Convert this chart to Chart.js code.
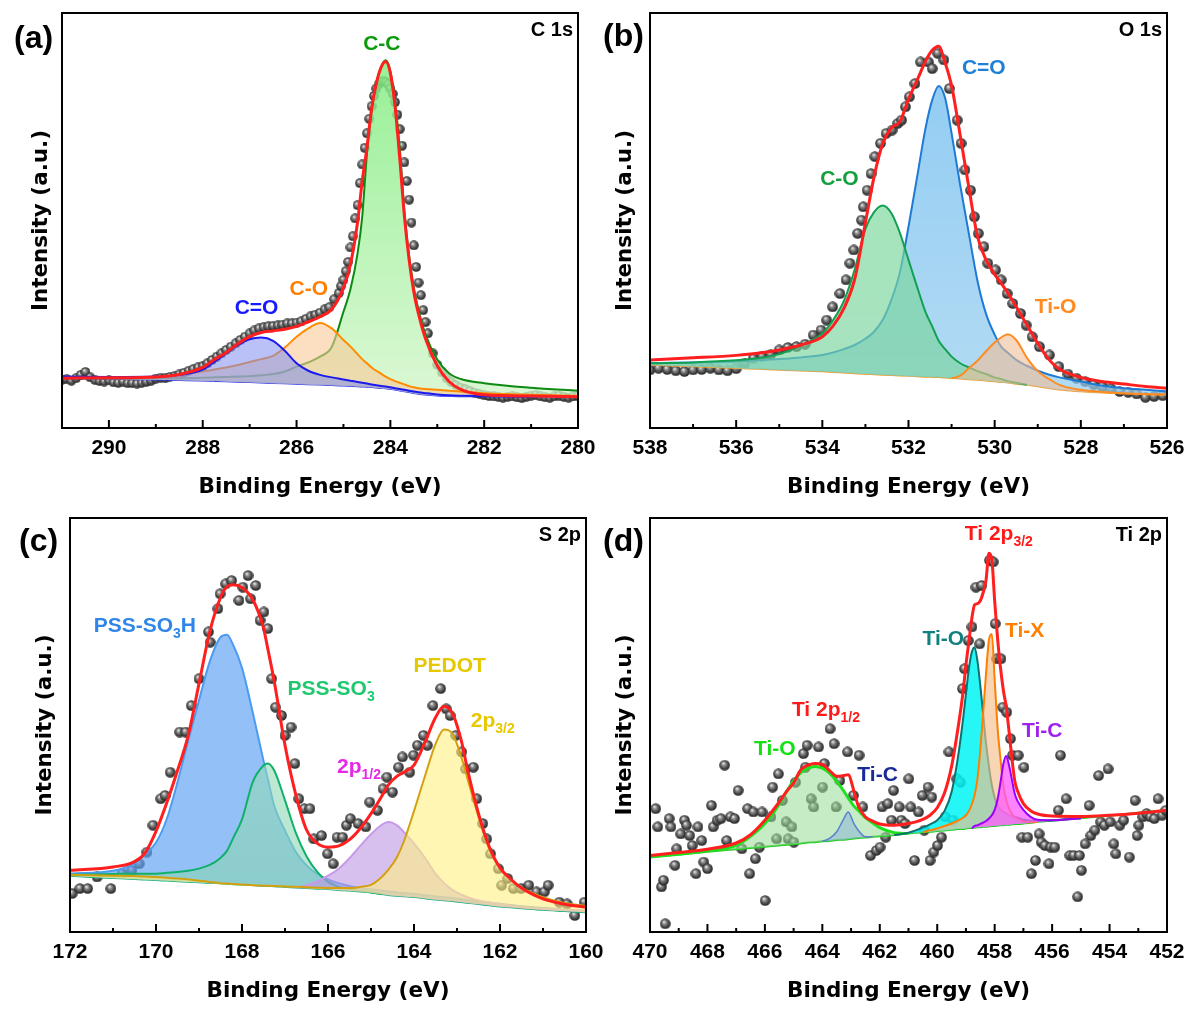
<!DOCTYPE html>
<html>
<head>
<meta charset="utf-8">
<title>XPS spectra</title>
<script src="https://cdn.jsdelivr.net/npm/chart.js@4.4.1/dist/chart.umd.min.js"></script>
<style>
  html, body { margin: 0; padding: 0; background: #fff; }
  #fig { position: relative; width: 1194px; height: 1014px; background: #fff; overflow: hidden; }
  #fig canvas { position: absolute; }
</style>
</head>
<body>
<div id="fig">
  <canvas id="pa" width="597" height="507" style="left:0;top:0"></canvas>
  <canvas id="pb" width="597" height="507" style="left:597px;top:0"></canvas>
  <canvas id="pc" width="620" height="507" style="left:0;top:507px"></canvas>
  <canvas id="pd" width="597" height="507" style="left:597px;top:507px"></canvas>
</div>
<script>
// ---------- shared text ----------
const xTitle = "Binding Energy (eV)";
const yTitle = "Intensity (a.u.)";
const coreLevels = ["C 1s", "O 1s", "S 2p", "Ti 2p"];
const panelLetters = ["(a)", "(b)", "(c)", "(d)"];

// ---------- (a) C 1s ----------
const aEnergy = [291, 290, 289, 288.5, 288, 287.75, 287.5, 287.25, 287, 286.75, 286.5, 286.25, 286, 285.75, 285.5, 285.25, 285, 284.85, 284.7, 284.6, 284.5, 284.4, 284.3, 284.2, 284.1, 284, 283.9, 283.8, 283.7, 283.6, 283.5, 283.4, 283.25, 283, 282.75, 282.5, 282, 281, 280];
const aBackground = [12.0, 11.8, 11.6, 11.5, 11.4, 11.3, 11.2, 11.1, 11.0, 10.9, 10.8, 10.7, 10.6, 10.5, 10.4, 10.3, 10.2, 10.1, 10.0, 9.95, 9.9, 9.8, 9.7, 9.6, 9.5, 9.4, 9.2, 9.0, 8.8, 8.6, 8.4, 8.2, 8.0, 7.8, 7.7, 7.6, 7.6, 7.5, 7.4];
const aCC = [12.0, 12.0, 12.0, 12.0, 12.1, 12.2, 12.3, 12.4, 12.5, 12.7, 13.0, 13.6, 14.8, 15.8, 17.2, 19.5, 28.0, 33.5, 42.0, 50.9, 66.0, 76.5, 83.0, 87.0, 88.6, 86.0, 78.5, 67.5, 52.0, 41.5, 33.8, 28.5, 22.5, 16.5, 13.2, 11.8, 10.8, 9.7, 9.0];
const aCO = [12.1, 12.0, 12.2, 12.8, 13.6, 14.1, 14.6, 15.2, 15.9, 16.6, 17.4, 19.4, 22.0, 24.0, 25.3, 24.0, 21.2, 19.6, 17.8, 16.6, 15.6, 14.6, 13.8, 13.1, 12.4, 11.8, 11.3, 10.9, 10.5, 10.1, 9.8, 9.6, 9.4, 9.2, 9.0, 8.8, 8.4, 8.0, 7.8];
const aC2O = [12.4, 12.3, 12.4, 12.8, 14.1, 16.0, 18.0, 20.0, 21.4, 21.8, 21.0, 18.6, 15.6, 13.8, 12.8, 12.2, 11.7, 11.4, 11.1, 10.9, 10.7, 10.5, 10.3, 10.1, 10.0, 9.8, 9.6, 9.4, 9.2, 9.0, 8.8, 8.6, 8.4, 8.1, 7.9, 7.8, 7.7, 7.5, 7.4];
const aFit = [12.0, 12.1, 12.3, 12.9, 14.6, 16.5, 18.2, 20.3, 22.0, 23.0, 23.4, 23.8, 24.5, 25.6, 26.8, 28.6, 33.8, 39.5, 49.5, 59.5, 67.5, 77.0, 83.0, 86.8, 88.3, 85.5, 77.5, 65.0, 51.0, 40.5, 32.8, 27.5, 21.5, 15.0, 11.2, 9.3, 8.0, 7.7, 7.5];
const aDataE = [291.0, 290.9, 290.8, 290.7, 290.6, 290.5, 290.4, 290.3, 290.2, 290.1, 290.0, 289.9, 289.8, 289.7, 289.6, 289.5, 289.4, 289.3, 289.2, 289.1, 289.0, 288.9, 288.8, 288.7, 288.6, 288.5,
  288.4, 288.3, 288.2, 288.1, 288.0, 287.9, 287.8, 287.7, 287.6, 287.5, 287.4, 287.3, 287.2, 287.1, 287.0, 286.9, 286.8, 286.7, 286.6, 286.5, 286.4, 286.3, 286.2, 286.1, 286.0, 285.9, 285.8, 285.7, 285.6, 285.5, 285.4, 285.3, 285.2, 285.1,
  285.05, 285.0, 284.95, 284.9, 284.85, 284.8, 284.75, 284.7, 284.65, 284.6, 284.55, 284.5, 284.45, 284.4, 284.35, 284.3, 284.25, 284.2, 284.15, 284.1, 284.05, 284.0, 283.95, 283.9, 283.85, 283.8, 283.75, 283.7, 283.65, 283.6, 283.55, 283.5, 283.45, 283.4, 283.35, 283.3, 283.25, 283.2,
  283.1, 283.0, 282.9, 282.8, 282.7, 282.6, 282.5, 282.4, 282.3, 282.2, 282.1, 282.0, 281.9, 281.8, 281.7, 281.6, 281.5, 281.4, 281.3, 281.2, 281.1, 281.0, 280.9, 280.8, 280.7, 280.6, 280.5, 280.4, 280.3, 280.2, 280.1, 280.0];
const aDataI = [11.6, 11.8, 11.4, 12.0, 12.8, 13.5, 12.2, 11.6, 11.3, 11.2, 11.5, 11.0, 10.9, 11.2, 10.8, 10.8, 10.7, 10.9, 11.1, 11.4, 11.9, 12.1, 12.0, 12.3, 12.5, 12.9,
  13.3, 13.8, 14.2, 14.6, 14.9, 15.6, 16.4, 17.2, 18.0, 18.8, 19.6, 20.4, 21.2, 22.0, 22.8, 23.5, 24.0, 24.3, 24.5, 24.6, 24.7, 24.9, 25.2, 25.2, 25.4, 25.7, 26.3, 26.9, 27.3, 27.8, 28.6, 29.1, 31.0, 32.5,
  34.2, 35.7, 37.8, 40.0, 43.5, 46.2, 50.5, 53.7, 59.0, 63.5, 67.5, 71.0, 74.5, 77.5, 80.0, 81.8, 82.8, 83.4, 83.6, 83.4, 82.8, 81.8, 80.5, 78.5, 75.5, 72.0, 68.0, 64.0, 59.5, 55.0, 49.5, 44.0, 38.8, 35.0, 32.0, 28.4, 25.5, 22.8,
  18.0, 15.2, 13.4, 12.0, 11.0, 10.3, 9.7, 9.3, 8.9, 8.5, 8.2, 7.9, 7.7, 7.6, 7.5, 7.3, 7.5, 7.6, 7.4, 7.2, 7.5, 7.8, 7.9, 7.6, 7.4, 7.3, 7.6, 7.8, 7.5, 7.3, 7.6, 7.7];
const aPeaks = ["C-C", "C-O", "C=O"];

// ---------- (b) O 1s ----------
const bEnergy = [538, 537, 536, 535.5, 535, 534.5, 534, 533.75, 533.5, 533.25, 533, 532.8, 532.6, 532.4, 532.2, 532, 531.8, 531.6, 531.45, 531.3, 531.15, 531, 530.8, 530.6, 530.4, 530.2, 530, 529.85, 529.7, 529.5, 529.25, 529, 528.75, 528.5, 528, 527.5, 527, 526.5, 526];
const bBackground = [15.2, 14.8, 14.4, 14.2, 14.0, 13.8, 13.6, 13.45, 13.3, 13.15, 13.0, 12.9, 12.8, 12.7, 12.6, 12.5, 12.4, 12.3, 12.25, 12.2, 12.1, 12.0, 11.85, 11.7, 11.55, 11.4, 11.2, 11.05, 10.9, 10.6, 10.4, 10.0, 9.6, 9.2, 8.8, 8.5, 8.3, 8.1, 8.0];
const bC2O = [15.6, 15.8, 16.0, 16.3, 16.6, 17.0, 17.6, 18.2, 19.0, 20.0, 21.5, 23.2, 26.0, 30.8, 37.5, 48.5, 60.5, 72.5, 79.0, 82.4, 79.5, 71.0, 58.5, 46.9, 35.5, 27.5, 22.5, 19.6, 18.2, 16.4, 15.0, 13.8, 12.9, 12.2, 11.2, 10.2, 9.6, 9.2, 8.8];
const bCO = [15.6, 15.8, 16.3, 16.8, 17.8, 19.9, 22.8, 26.0, 30.6, 38.2, 48.0, 52.0, 53.6, 51.8, 47.0, 40.5, 34.0, 27.8, 24.5, 21.0, 19.0, 17.2, 15.6, 14.6, 13.7, 13.0, 12.2, 11.8, 11.3, 10.9, 10.4, 10.0, 9.6, 9.2, 8.8, 8.5, 8.3, 8.1, 8.0];
const bTiO = [15.2, 14.8, 14.4, 14.2, 14.0, 13.8, 13.6, 13.45, 13.3, 13.15, 13.0, 12.9, 12.8, 12.7, 12.6, 12.5, 12.4, 12.3, 12.25, 12.2, 12.1, 12.0, 12.6, 14.4, 16.2, 18.5, 20.6, 21.8, 22.6, 21.2, 16.9, 13.7, 11.9, 10.4, 9.2, 8.7, 8.4, 8.2, 8.1];
const bFit = [16.4, 16.9, 17.5, 18.0, 18.8, 20.0, 22.0, 24.6, 28.8, 35.8, 49.5, 60.5, 68.5, 72.3, 73.8, 79.2, 83.8, 88.5, 91.0, 92.0, 88.0, 82.5, 70.5, 58.0, 46.2, 40.5, 37.0, 34.9, 32.6, 29.2, 24.8, 20.4, 16.6, 14.2, 12.2, 11.2, 10.6, 10.0, 9.6];
const bDataE = [538.0, 537.8, 537.6, 537.4, 537.2, 537.0, 536.8, 536.6, 536.4, 536.2, 536.0, 535.8, 535.6, 535.4, 535.2, 535.0, 534.8, 534.6, 534.4,
  534.21, 534.03, 533.9, 533.76, 533.59, 533.45, 533.36, 533.27, 533.18, 533.09, 533.05, 532.96, 532.87, 532.78, 532.65, 532.52, 532.38, 532.25, 532.16, 532.07, 531.98, 531.85, 531.72, 531.54, 531.45, 531.32, 531.18, 531.05, 530.87, 530.78, 530.69, 530.56, 530.47, 530.38, 530.25, 530.16, 529.98, 529.85, 529.71, 529.58, 529.4, 529.27, 529.13, 528.96, 528.73, 528.51,
  528.3, 528.1, 527.9, 527.7, 527.5, 527.3, 527.1, 526.9, 526.7, 526.5, 526.3, 526.1];
const bDataI = [14.0, 14.4, 14.1, 13.8, 13.6, 14.0, 14.1, 14.4, 14.0, 13.8, 14.3, 15.6, 16.8, 17.3, 17.7, 18.8, 19.4, 19.6, 20.2,
  22.4, 23.6, 26.0, 29.2, 32.4, 35.7, 39.7, 42.9, 46.9, 50.1, 53.3, 57.3, 61.3, 65.4, 68.6, 71.0, 71.8, 73.4, 74.2, 77.4, 79.8, 83.0, 88.2, 88.2, 86.6, 90.3, 88.7, 81.8, 74.2, 68.6, 62.2, 57.3, 50.9, 46.9, 43.7, 39.7, 38.1, 35.7, 32.4, 30.0, 27.6, 24.8, 22.0, 19.6, 17.6, 14.8,
  13.0, 12.0, 11.2, 10.5, 10.0, 9.5, 8.8, 8.6, 8.2, 7.4, 7.6, 7.8];
const bPeaks = ["C=O", "C-O", "Ti-O"];

// ---------- (c) S 2p ----------
const cEnergy = [172, 171, 170.5, 170.25, 170, 169.75, 169.5, 169.25, 169, 168.75, 168.5, 168.35, 168.2, 168, 167.75, 167.5, 167.4, 167.25, 167, 166.75, 166.5, 166.25, 166, 165.75, 165.5, 165.25, 165, 164.75, 164.6, 164.4, 164.25, 164, 163.75, 163.5, 163.3, 163.1, 162.9, 162.75, 162.5, 162.25, 162, 161.75, 161.5, 161, 160.5, 160];
const cBackground = [13.5, 13.0, 12.75, 12.6, 12.5, 12.35, 12.2, 12.1, 11.95, 11.8, 11.7, 11.6, 11.5, 11.4, 11.3, 11.1, 11.05, 11.0, 10.85, 10.7, 10.55, 10.4, 10.3, 10.1, 9.95, 9.75, 9.5, 9.1, 8.9, 8.7, 8.6, 8.4, 8.1, 7.8, 7.6, 7.4, 7.2, 7.0, 6.7, 6.4, 6.1, 5.9, 5.7, 5.3, 5.0, 4.7];
const cSO3H = [14.1, 14.8, 16.6, 18.8, 21.6, 27.3, 36.2, 46.3, 56.0, 65.3, 71.2, 71.8, 69.2, 63.8, 53.0, 41.4, 37.0, 30.5, 24.5, 19.4, 16.1, 14.0, 12.7, 11.8, 11.1, 10.6, 10.3, 10.0, 9.8, 9.6, 9.4, 9.2, 8.9, 8.6, 8.4, 8.2, 7.9, 7.7, 7.4, 7.1, 6.8, 6.5, 6.2, 5.8, 5.4, 5.1];
const cSO3 = [13.8, 14.0, 14.1, 14.1, 14.1, 14.3, 14.5, 14.8, 15.3, 16.2, 17.9, 19.6, 22.8, 27.2, 36.2, 40.2, 40.7, 39.0, 31.8, 24.0, 18.3, 14.5, 12.1, 10.9, 10.3, 9.9, 9.6, 9.1, 8.9, 8.7, 8.6, 8.4, 8.1, 7.8, 7.6, 7.4, 7.2, 7.0, 6.7, 6.4, 6.1, 5.9, 5.7, 5.3, 5.0, 4.7];
const cP12 = [13.5, 13.0, 12.75, 12.6, 12.5, 12.35, 12.2, 12.1, 11.95, 11.8, 11.7, 11.6, 11.5, 11.4, 11.3, 11.1, 11.05, 11.0, 10.85, 10.7, 11.3, 12.2, 13.6, 15.3, 17.8, 20.8, 23.6, 25.9, 26.6, 25.8, 24.3, 21.4, 18.0, 14.1, 11.8, 10.1, 9.0, 8.4, 7.6, 7.1, 6.7, 6.4, 6.1, 5.7, 5.4, 5.2];
const cP32 = [13.8, 13.6, 13.5, 13.4, 13.3, 13.1, 12.9, 12.7, 12.4, 12.1, 11.8, 11.7, 11.6, 11.5, 11.3, 11.2, 11.15, 11.1, 11.0, 10.9, 10.8, 10.7, 10.6, 10.6, 10.6, 10.9, 11.4, 13.3, 15.0, 18.0, 21.5, 29.2, 37.5, 45.4, 48.9, 47.8, 42.3, 36.8, 27.8, 20.0, 15.4, 12.6, 10.7, 8.4, 7.0, 6.3];
const cFit = [14.9, 15.7, 17.0, 19.2, 24.3, 31.2, 39.0, 47.5, 60.0, 72.5, 80.8, 83.4, 83.9, 83.2, 80.3, 73.4, 68.4, 60.5, 45.1, 33.2, 24.7, 21.4, 20.5, 20.8, 22.3, 25.0, 28.6, 32.8, 35.5, 37.6, 38.5, 40.3, 45.7, 51.8, 54.5, 52.7, 46.2, 39.0, 28.6, 20.6, 15.5, 12.8, 10.6, 8.0, 6.7, 6.0];
const cDataE = [171.95, 171.77, 171.59, 171.37, 171.05, 170.79, 170.56, 170.39, 170.21, 170.07, 169.89, 169.79, 169.67, 169.45, 169.31, 169.18, 169.0, 168.78, 168.74, 168.56, 168.51, 168.38, 168.24, 168.07, 167.98, 167.86, 167.8, 167.68, 167.58, 167.49, 167.4, 167.31, 167.22, 167.08, 167.0, 166.86, 166.77, 166.68, 166.55, 166.42, 166.33, 166.15, 166.01, 165.88, 165.79, 165.66, 165.57, 165.48, 165.3, 165.12, 165.03, 164.85, 164.72, 164.63, 164.5, 164.36, 164.27, 164.1, 164.01, 163.92, 163.78, 163.69, 163.56, 163.38, 163.25, 163.16, 163.03, 162.89, 162.8, 162.62, 162.54, 162.4, 162.31, 162.22, 162.04, 161.96, 161.82, 161.69, 161.51, 161.33, 161.15, 160.97, 160.88, 160.62, 160.44, 160.26, 160.04];
const cDataI = [9.3, 10.5, 10.5, 13.3, 10.5, 14.1, 14.9, 16.5, 19.3, 25.8, 32.2, 33.0, 38.6, 48.3, 48.3, 54.7, 61.2, 72.5, 70.0, 78.1, 81.7, 84.1, 84.9, 80.1, 83.3, 86.1, 80.5, 83.7, 75.3, 77.3, 73.3, 61.2, 54.3, 52.3, 47.5, 49.5, 40.7, 32.2, 29.8, 29.8, 22.5, 23.3, 18.9, 16.5, 22.9, 22.9, 25.8, 27.4, 26.2, 25.4, 31.4, 29.4, 34.6, 37.4, 33.8, 39.8, 42.3, 38.6, 42.7, 45.1, 47.5, 45.1, 54.7, 58.8, 53.9, 52.3, 47.5, 43.5, 39.4, 39.8, 32.2, 26.2, 22.5, 18.9, 15.3, 11.3, 12.9, 10.5, 10.5, 11.3, 9.7, 9.7, 11.3, 7.2, 6.8, 4.0, 7.2];
const cPeaks = ["PSS-SO_{3}H", "PSS-SO_{3}^{-}", "PEDOT", "2p_{3/2}", "2p_{1/2}"];

// ---------- (d) Ti 2p ----------
const dEnergy = [470, 469, 468, 467, 466.5, 466, 465.5, 465.25, 465, 464.75, 464.5, 464.25, 464, 463.75, 463.5, 463.25, 463.1, 462.9, 462.75, 462.5, 462.25, 462, 461.5, 461, 460.5, 460.25, 460, 459.75, 459.5, 459.25, 459.1, 459, 458.9, 458.8, 458.7, 458.6, 458.5, 458.4, 458.3, 458.2, 458.1, 458, 457.9, 457.8, 457.7, 457.6, 457.5, 457.4, 457.3, 457.2, 457, 456.75, 456.5, 456, 455, 454, 453, 452];
const dBackground = [18.1, 18.7, 19.4, 20.0, 20.3, 20.6, 20.9, 21.1, 21.2, 21.4, 21.6, 21.7, 21.9, 22.0, 22.2, 22.3, 22.4, 22.6, 22.7, 22.8, 23.0, 23.1, 23.4, 23.8, 24.1, 24.2, 24.4, 24.5, 24.7, 24.9, 24.9, 25.0, 25.1, 25.1, 25.2, 25.3, 25.3, 25.4, 25.4, 25.5, 25.6, 25.6, 25.7, 25.8, 25.8, 25.9, 25.9, 26.0, 26.1, 26.1, 26.2, 26.4, 26.6, 26.9, 27.5, 28.1, 28.8, 29.4];
const dTiO12 = [18.1, 18.8, 19.6, 20.9, 23.1, 26.2, 30.9, 33.9, 36.5, 38.5, 39.6, 40.0, 39.6, 38.4, 36.4, 34.0, 32.4, 30.4, 29.4, 27.6, 26.4, 25.2, 24.0, 23.8, 24.1, 24.2, 24.4, 24.5, 24.7, 24.9, 24.9, 25.0, 25.1, 25.1, 25.2, 25.3, 25.3, 25.4, 25.4, 25.5, 25.6, 25.6, 25.7, 25.8, 25.8, 25.9, 25.9, 26.0, 26.1, 26.1, 26.2, 26.4, 26.6, 26.9, 27.5, 28.1, 28.8, 29.4];
const dTiC12 = [18.1, 18.7, 19.4, 20.0, 20.3, 20.6, 20.9, 21.1, 21.2, 21.4, 21.6, 21.7, 21.9, 22.6, 24.2, 27.4, 29.0, 26.2, 24.6, 23.0, 23.0, 23.1, 23.4, 23.8, 24.1, 24.2, 24.4, 24.5, 24.7, 24.9, 24.9, 25.0, 25.1, 25.1, 25.2, 25.3, 25.3, 25.4, 25.4, 25.5, 25.6, 25.6, 25.7, 25.8, 25.8, 25.9, 25.9, 26.0, 26.1, 26.1, 26.2, 26.4, 26.6, 26.9, 27.5, 28.1, 28.8, 29.4];
const dTiO32 = [18.1, 18.7, 19.4, 20.0, 20.3, 20.6, 20.9, 21.1, 21.2, 21.4, 21.6, 21.7, 21.9, 22.0, 22.2, 22.3, 22.4, 22.6, 22.7, 22.8, 23.0, 23.1, 23.4, 24.0, 25.2, 26.0, 27.0, 29.2, 33.8, 43.5, 51.5, 57.5, 63.5, 67.5, 68.8, 65.5, 59.5, 52.5, 45.5, 40.0, 35.5, 32.5, 30.6, 29.6, 29.0, 28.6, 28.2, 28.0, 27.8, 27.6, 27.1, 26.9, 26.9, 27.0, 27.5, 28.1, 28.8, 29.4];
const dTiX = [18.1, 18.7, 19.4, 20.0, 20.3, 20.6, 20.9, 21.1, 21.2, 21.4, 21.6, 21.7, 21.9, 22.0, 22.2, 22.3, 22.4, 22.6, 22.7, 22.8, 23.0, 23.1, 23.4, 23.8, 24.1, 24.6, 25.0, 25.6, 26.2, 27.0, 27.6, 28.2, 29.2, 30.8, 33.0, 37.0, 44.0, 53.0, 62.5, 70.5, 72.0, 61.0, 49.5, 42.0, 35.5, 32.0, 29.8, 28.6, 27.8, 27.3, 26.7, 26.5, 26.6, 26.9, 27.5, 28.1, 28.8, 29.4];
const dTiC32 = [18.1, 18.7, 19.4, 20.0, 20.3, 20.6, 20.9, 21.1, 21.2, 21.4, 21.6, 21.7, 21.9, 22.0, 22.2, 22.3, 22.4, 22.6, 22.7, 22.8, 23.0, 23.1, 23.4, 23.8, 24.1, 24.2, 24.4, 24.5, 24.7, 24.9, 24.9, 25.0, 25.1, 25.1, 25.6, 25.8, 26.1, 26.4, 26.8, 27.4, 28.2, 29.5, 32.0, 36.0, 40.5, 42.5, 40.3, 36.8, 33.4, 31.6, 29.5, 27.8, 27.1, 27.0, 27.5, 28.1, 28.8, 29.4];
const dFit = [18.5, 19.2, 20.0, 21.5, 23.5, 27.0, 31.4, 33.9, 36.0, 39.2, 40.3, 40.7, 40.5, 39.0, 37.6, 37.8, 38.0, 34.0, 30.5, 27.8, 26.8, 26.1, 25.8, 26.2, 27.2, 28.2, 30.0, 33.5, 40.0, 50.5, 58.0, 64.5, 70.0, 75.5, 79.0, 79.3, 80.0, 82.0, 85.0, 91.5, 90.0, 80.0, 71.0, 64.0, 58.5, 54.5, 48.5, 42.0, 36.5, 34.0, 31.0, 29.3, 28.5, 28.0, 27.9, 28.2, 28.7, 29.4];
const dDataE = [469.80, 469.73, 469.60, 469.53, 469.47, 469.33, 469.27, 469.13, 469.07, 468.93, 468.80, 468.73, 468.62, 468.53, 468.40, 468.33, 468.20, 468.13, 468.00, 467.86, 467.80, 467.66, 467.53, 467.40, 467.33, 467.20, 467.06, 466.93, 466.80, 466.60, 466.53, 466.40, 466.33, 466.19, 466.10, 465.99, 465.79, 465.73, 465.59, 465.53, 465.39, 465.26, 465.19, 465.06, 464.99, 464.93, 464.66, 464.59, 464.53, 464.39, 464.30, 464.13, 463.99, 463.93, 463.73, 463.59, 463.52, 463.39, 463.12, 462.92, 462.72, 462.59, 462.32, 462.12, 461.99, 461.92, 461.79, 461.72, 461.59, 461.52, 461.32, 461.25, 461.12, 460.99, 460.92, 460.79, 460.65, 460.52, 460.45, 460.32, 460.25, 460.19, 460.12, 459.99, 459.85, 459.72, 459.59, 459.45, 459.32, 459.19, 459.12, 459.05, 458.92, 458.79, 458.65, 458.52, 458.45, 458.18, 458.05, 457.98, 457.92, 457.78, 457.72, 457.58, 457.45, 457.38, 457.18, 456.98, 457.05, 456.85, 456.72, 456.58, 456.45, 456.38, 456.25, 456.11, 456.05, 455.91, 455.78, 455.71, 455.51, 455.38, 455.25, 455.11, 455.05, 454.98, 454.85, 454.71, 454.65, 454.51, 454.38, 454.31, 454.18, 454.05, 453.98, 453.85, 453.78, 453.64, 453.51, 453.31, 453.11, 453.04, 452.98, 452.84, 452.71, 452.58, 452.44, 452.31, 452.17, 452.04];
const dDataI = [29.8, 25.4, 10.9, 12.5, 2.0, 27.4, 25.4, 16.1, 20.1, 23.7, 27.0, 25.8, 23.3, 20.9, 14.1, 25.4, 22.1, 16.9, 15.3, 30.6, 25.4, 27.0, 27.4, 40.3, 22.1, 27.8, 27.4, 34.2, 20.1, 29.8, 14.1, 29.0, 17.7, 20.5, 29.0, 7.6, 27.8, 35.0, 22.5, 38.2, 31.8, 26.6, 22.5, 25.4, 21.7, 36.2, 43.1, 39.8, 45.1, 32.2, 30.2, 44.7, 35.0, 40.7, 49.1, 45.5, 30.2, 36.6, 43.5, 33.0, 42.7, 30.2, 18.5, 19.7, 20.5, 30.2, 22.9, 31.0, 27.0, 34.2, 30.2, 27.0, 26.2, 37.0, 30.2, 17.3, 29.0, 33.0, 24.6, 35.0, 17.3, 32.6, 19.3, 20.9, 22.9, 27.8, 43.5, 27.0, 37.0, 36.2, 58.8, 63.6, 70.4, 73.7, 83.3, 69.6, 83.7, 89.8, 89.4, 74.5, 66.0, 66.0, 54.3, 53.1, 46.7, 42.7, 42.7, 39.8, 22.9, 22.9, 14.1, 17.3, 23.7, 21.7, 20.9, 16.5, 20.5, 20.5, 29.4, 42.7, 32.2, 18.5, 18.5, 8.5, 18.5, 14.9, 21.3, 30.6, 23.3, 24.6, 37.8, 26.6, 25.8, 39.4, 26.6, 21.3, 18.9, 25.8, 27.0, 18.1, 31.8, 23.3, 25.8, 27.8, 28.6, 27.8, 27.4, 32.2, 28.2, 29.4];
const dPeaks = ["Ti 2p_{3/2}", "Ti-O", "Ti-X", "Ti-C", "Ti 2p_{1/2}", "Ti-O", "Ti-C"];

// ---------- drawing helpers ----------
const SANS = '"Liberation Sans", Arial, sans-serif';
const TICK_FONT = { family: SANS, size: 21, weight: "bold" };
const TITLE_FONT = { family: '"DejaVu Sans", sans-serif', size: 21.5, weight: "bold", lineHeight: 1.2 };

function ballSprite(d) {
  const c = document.createElement("canvas");
  c.width = d; c.height = d;
  const g = c.getContext("2d");
  const r = d / 2;
  const grad = g.createRadialGradient(r * 0.75, r * 0.65, r * 0.08, r, r, r);
  grad.addColorStop(0, "#e4e4e4");
  grad.addColorStop(0.3, "#8a8a8a");
  grad.addColorStop(0.75, "#3c3c3c");
  grad.addColorStop(1, "#262626");
  g.fillStyle = grad;
  g.beginPath(); g.arc(r, r, r - 0.2, 0, Math.PI * 2); g.fill();
  return c;
}

function vgrad(top, bottom) {
  return (c) => {
    const area = c.chart.chartArea;
    if (!area) return top;
    const g = c.chart.ctx.createLinearGradient(0, area.top, 0, area.bottom);
    g.addColorStop(0, top); g.addColorStop(1, bottom);
    return g;
  };
}

function parseRich(s) {
  const parts = [];
  const re = /_\{([^}]*)\}|\^\{([^}]*)\}|([^_^]+)/g;
  let m;
  while ((m = re.exec(s))) {
    if (m[1] !== undefined) parts.push({ t: m[1], k: "sub" });
    else if (m[2] !== undefined) parts.push({ t: m[2], k: "sup" });
    else parts.push({ t: m[3], k: "" });
  }
  return parts;
}

function drawRich(ctx, x, y, s, size, color, align) {
  const big = `bold ${size}px ${SANS}`;
  const small = `bold ${Math.round(size * 0.68)}px ${SANS}`;
  let cx = 0, lastStart = 0, lastScript = false;
  const placed = [];
  for (const p of parseRich(s)) {
    ctx.font = p.k ? small : big;
    const w = ctx.measureText(p.t).width;
    let px;
    if (p.k && lastScript) { px = lastStart; cx = Math.max(cx, lastStart + w); }
    else { px = cx; lastStart = cx; cx += w; }
    placed.push({ ...p, px });
    lastScript = !!p.k;
  }
  const x0 = align === "right" ? x - cx : align === "center" ? x - cx / 2 : x;
  ctx.fillStyle = color;
  ctx.textAlign = "left";
  ctx.textBaseline = "alphabetic";
  for (const p of placed) {
    ctx.font = p.k ? small : big;
    const dy = p.k === "sub" ? size * 0.28 : p.k === "sup" ? -size * 0.45 : 0;
    ctx.fillText(p.t, x0 + p.px, y + dy);
  }
}

function decoPlugin(p) {
  return {
    id: "deco",
    afterDraw(chart) {
      const { ctx, chartArea: a, scales: { x, y } } = chart;
      ctx.save();
      ctx.strokeStyle = "#000";
      ctx.lineWidth = 2;
      // inward tick marks, long at labelled values
      x.ticks.forEach((t) => {
        const px = x.getPixelForValue(t.value);
        if (px < a.left + 2 || px > a.right - 2) return;
        const len = t.value % 2 === 0 ? 8 : 4;
        ctx.beginPath(); ctx.moveTo(px, a.bottom); ctx.lineTo(px, a.bottom - len); ctx.stroke();
      });
      ctx.strokeRect(a.left, a.top, a.right - a.left, a.bottom - a.top);
      p.notes.forEach((n) =>
        drawRich(ctx, x.getPixelForValue(n.e), y.getPixelForValue(n.v), n.text, 21, n.color, "left"));
      drawRich(ctx, a.right - 5, a.top + 22.5, p.core, 20, "#000", "right");
      drawRich(ctx, p.letterPos[0], p.letterPos[1], p.letter, 32, "#000", "left");
      ctx.restore();
    },
  };
}

function buildPanel(id, p) {
  const xy = (xs, ys) => xs.map((x, i) => ({ x, y: ys[i] }));
  const near = (a, b) => Math.abs(a - b) < 0.01;
  const n = p.comps.length;
  const datasets = [{
    label: "background",
    data: xy(p.energy, p.background),
    borderColor: p.bgColor, borderWidth: p.bgWidth || 1.5,
    pointRadius: 0, fill: false, cubicInterpolationMode: "monotone", order: n + 1,
  }];
  p.comps.forEach((c, i) => {
    datasets.push({
      label: c.name,
      data: xy(p.energy, c.values),
      borderColor: c.line, borderWidth: c.width || 2,
      backgroundColor: c.fill, fill: 0,
      pointRadius: 0, cubicInterpolationMode: "monotone", order: n - i,
      segment: {
        borderColor: (s) =>
          near(c.values[s.p0DataIndex], p.background[s.p0DataIndex]) &&
          near(c.values[s.p1DataIndex], p.background[s.p1DataIndex]) ? "rgba(0,0,0,0)" : undefined,
      },
    });
  });
  datasets.push({
    label: "fit", data: xy(p.energy, p.fit),
    borderColor: "#ff1f1f", borderWidth: 3, pointRadius: 0, fill: false,
    cubicInterpolationMode: "monotone", order: 0,
  });
  datasets.push({
    label: "data", data: xy(p.dataE, p.dataI),
    showLine: false, fill: false, pointStyle: ballSprite(p.ball), pointRadius: 5, order: n + 2,
  });

  const W = p.size[0], H = p.size[1];
  return new Chart(document.getElementById(id), {
    type: "line",
    data: { datasets },
    options: {
      responsive: false,
      animation: false,
      devicePixelRatio: 1,
      events: [],
      layout: { padding: { top: p.box.top, right: W - p.box.right, bottom: 0, left: 0 } },
      plugins: {
        legend: { display: false },
        tooltip: { enabled: false },
        filler: { drawTime: "beforeDatasetDraw" },
      },
      scales: {
        x: {
          type: "linear", reverse: true, min: p.xRange[0], max: p.xRange[1],
          grid: { display: false, drawTicks: false },
          border: { display: false },
          ticks: {
            stepSize: 1, autoSkip: false, maxRotation: 0, padding: 7.5, color: "#000", font: TICK_FONT,
            callback: (v) => (v % 2 === 0 ? String(v) : ""),
          },
          title: { display: true, text: xTitle, color: "#000", font: TITLE_FONT, padding: { top: 0, bottom: p.titlePad[0] } },
          afterFit: (s) => { s.height = H - p.box.bottom; s.paddingLeft = 0; s.paddingRight = 0; },
        },
        y: {
          min: 0, max: 100,
          ticks: { display: false },
          grid: { display: false, drawTicks: false },
          border: { display: false },
          title: { display: true, text: yTitle, color: "#000", font: TITLE_FONT, padding: { top: p.titlePad[1], bottom: 0 } },
          afterFit: (s) => { s.width = p.box.left; },
        },
      },
    },
    plugins: [decoPlugin(p)],
  });
}

// ---------- panels ----------
buildPanel("pa", {
  size: [597, 507], box: { left: 62, right: 578, top: 13, bottom: 428 }, titlePad: [7, 29], ball: 10,
  xRange: [280, 291], energy: aEnergy, background: aBackground, bgColor: "#2a2ff0",
  comps: [
    { name: "C-C", values: aCC, line: "#0d8a12", fill: vgrad("rgba(120,236,120,0.85)", "rgba(214,246,204,0.75)") },
    { name: "C-O", values: aCO, line: "#ff8c00", fill: "rgba(250,200,150,0.6)" },
    { name: "C=O", values: aC2O, line: "#1a1af0", fill: "rgba(128,142,238,0.55)" },
  ],
  fit: aFit, dataE: aDataE, dataI: aDataI,
  notes: [
    { text: aPeaks[0], e: 284.58, v: 91.1, color: "#0b9a0b" },
    { text: aPeaks[1], e: 286.15, v: 32.0, color: "#ff8000" },
    { text: aPeaks[2], e: 287.32, v: 27.4, color: "#1a1aff" },
  ],
  core: coreLevels[0], letter: panelLetters[0], letterPos: [14, 48],
});

buildPanel("pb", {
  size: [597, 507], box: { left: 53, right: 570, top: 13, bottom: 428 }, titlePad: [7, 16], ball: 11,
  xRange: [526, 538], energy: bEnergy, background: bBackground, bgColor: "#f39a2a",
  comps: [
    { name: "C=O", values: bC2O, line: "#1f7ad6", fill: vgrad("rgba(110,188,240,0.8)", "rgba(150,205,238,0.7)") },
    { name: "C-O", values: bCO, line: "#12a052", fill: vgrad("rgba(125,222,150,0.7)", "rgba(120,210,160,0.65)") },
    { name: "Ti-O", values: bTiO, line: "#ff8c20", fill: "rgba(240,190,150,0.6)" },
  ],
  fit: bFit, dataE: bDataE, dataI: bDataI,
  notes: [
    { text: bPeaks[0], e: 530.76, v: 85.3, color: "#1e7fd6" },
    { text: bPeaks[1], e: 534.05, v: 58.6, color: "#12a03c" },
    { text: bPeaks[2], e: 529.07, v: 27.7, color: "#ff8a20" },
  ],
  core: coreLevels[1], letter: panelLetters[1], letterPos: [6, 46],
});

buildPanel("pc", {
  size: [620, 507], box: { left: 70, right: 586, top: 11, bottom: 425 }, titlePad: [10, 33], ball: 11,
  xRange: [160, 172], energy: cEnergy, background: cBackground, bgColor: "#12b07a",
  comps: [
    { name: "PSS-SO3H", values: cSO3H, line: "#4b9cf0", fill: "rgba(98,162,245,0.68)" },
    { name: "PSS-SO3-", values: cSO3, line: "#10b06a", fill: vgrad("rgba(170,232,195,0.6)", "rgba(130,210,175,0.6)") },
    { name: "2p1/2", values: cP12, line: "#c79ae8", fill: "rgba(190,150,226,0.6)" },
    { name: "2p3/2", values: cP32, line: "#d4a010", fill: "rgba(255,240,130,0.6)" },
  ],
  fit: cFit, dataE: cDataE, dataI: cDataI,
  notes: [
    { text: cPeaks[0], e: 171.45, v: 72.5, color: "#2f86e8" },
    { text: cPeaks[1], e: 166.94, v: 57.2, color: "#1ec86e" },
    { text: cPeaks[2], e: 164.01, v: 62.9, color: "#e6c800" },
    { text: cPeaks[3], e: 162.68, v: 49.6, color: "#e8c800" },
    { text: cPeaks[4], e: 165.79, v: 38.3, color: "#e628e6" },
  ],
  core: coreLevels[2], letter: panelLetters[2], letterPos: [19, 44],
});

buildPanel("pd", {
  size: [597, 507], box: { left: 53, right: 570, top: 11, bottom: 425 }, titlePad: [10, 16], ball: 11,
  xRange: [452, 470], energy: dEnergy, background: dBackground, bgColor: "#22cc22", bgWidth: 2,
  comps: [
    { name: "Ti-O 2p1/2", values: dTiO12, line: "#1ee01e", width: 3, fill: "rgba(150,220,150,0.55)" },
    { name: "Ti-C 2p1/2", values: dTiC12, line: "#5b7fd0", width: 1.5, fill: "rgba(130,170,220,0.45)" },
    { name: "Ti-O 2p3/2", values: dTiO32, line: "#107070", fill: "rgba(0,245,245,0.85)" },
    { name: "Ti-X", values: dTiX, line: "#ff7f00", fill: "rgba(245,190,140,0.65)" },
    { name: "Ti-C 2p3/2", values: dTiC32, line: "#9b00ff", fill: "rgba(255,90,255,0.75)" },
  ],
  fit: dFit, dataE: dDataE, dataI: dDataI,
  notes: [
    { text: dPeaks[0], e: 459.04, v: 94.7, color: "#ff1a1a" },
    { text: dPeaks[1], e: 460.51, v: 69.3, color: "#138080" },
    { text: dPeaks[2], e: 457.64, v: 71.3, color: "#ff8000" },
    { text: dPeaks[3], e: 457.05, v: 47.2, color: "#a020f0" },
    { text: dPeaks[4], e: 465.06, v: 52.2, color: "#ff1a1a" },
    { text: dPeaks[5], e: 466.38, v: 42.8, color: "#14e014" },
    { text: dPeaks[6], e: 462.78, v: 36.5, color: "#1a2a9a" },
  ],
  core: coreLevels[3], letter: panelLetters[3], letterPos: [6, 44],
});
</script>
</body>
</html>
